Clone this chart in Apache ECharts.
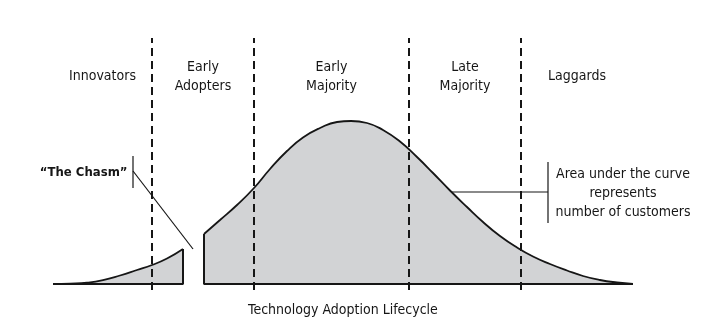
<!DOCTYPE html>
<html>
<head>
<meta charset="utf-8">
<script src="https://cdn.jsdelivr.net/npm/echarts@6/dist/echarts.min.js"></script>
<style>
html,body{margin:0;padding:0;background:#fff;}
#chart{width:725px;height:330px;}
</style>
</head>
<body>
<div id="chart"></div>
<script>
// Adoption position (arbitrary units along lifecycle) and relative number of customers
const leftX  = [0, 17, 34, 50, 67, 84, 99, 114, 130];
const leftY  = [0, 0.4, 1.3, 3.8, 8.5, 14, 19, 25.5, 35];
const rightX = [151, 167, 184, 201, 217, 234, 250, 267, 284, 298, 314, 330, 347, 364, 380, 397, 414, 430, 447, 464, 480, 497, 514, 530, 547, 564, 580];
const rightY = [50, 64, 79, 96, 115, 133, 146.5, 156, 162, 163, 161, 154, 142.5, 127, 111, 93.5, 77, 62, 48, 36.5, 27.5, 20, 13.5, 8, 4, 1.5, 0];
// Segment boundaries (dashed lines)
const boundaries = [99, 201, 356, 468];
const segments = ['Innovators', 'Early\nAdopters', 'Early\nMajority', 'Late\nMajority', 'Laggards'];
const axisTitle = 'Technology Adoption Lifecycle';
const chasmText = '\u201CThe Chasm\u201D';
const areaText = 'Area under the curve\nrepresents\nnumber of customers';

const FONT = "'DejaVu Sans Condensed', 'Liberation Sans', sans-serif";
const INK = '#161616';
const FILL = '#d2d3d5';

const zip = (xs, ys) => xs.map((x, i) => [x, ys[i]]);
const leftPts = zip(leftX, leftY);
const rightPts = zip(rightX, rightY);
const xMin = leftX[0], xMax = rightX[rightX.length - 1];
const yTop = 246, yBottom = -6;

// label centres: midpoints between curve ends and boundaries
const edges = [xMin, ...boundaries, xMax];
const labelY = 207.5;
const labelData = segments.map((s, i) => ({ value: [(edges[i] + edges[i + 1]) / 2, labelY], name: s }));

const hidden = { color: 'rgba(0,0,0,0)', opacity: 1 };
const series = [];
// filled curve pieces
[leftPts, rightPts].forEach(pts => {
  series.push({
    type: 'line', data: pts, smooth: 0.5, showSymbol: false, symbol: 'none',
    lineStyle: { color: INK, width: 1.8 }, areaStyle: { color: FILL, opacity: 1 }, z: 2, silent: true
  });
});
// outline edges (baseline + vertical cuts)
const lEnd = leftPts[leftPts.length - 1], rStart = rightPts[0];
series.push({
  type: 'line', data: [[xMin, 0], [lEnd[0], 0], lEnd], symbol: 'none',
  lineStyle: { color: INK, width: 2 }, z: 5, silent: true
});
series.push({
  type: 'line', data: [rStart, [rStart[0], 0], [xMax, 0]], symbol: 'none',
  lineStyle: { color: INK, width: 2 }, z: 5, silent: true
});
// dashed boundaries
boundaries.forEach(b => {
  series.push({
    type: 'line', data: [[b, yBottom], [b, yTop]], symbol: 'none', clip: false,
    lineStyle: { color: INK, width: 2, type: [8, 5] }, z: 4, silent: true
  });
});
// segment labels
series.push({
  type: 'scatter', data: labelData, symbolSize: 1, itemStyle: hidden, z: 6, silent: true,
  label: { show: true, position: 'inside', formatter: p => p.name, color: INK, fontFamily: FONT, fontSize: 14, lineHeight: 19, align: 'center', verticalAlign: 'middle' }
});
// annotations: chasm
series.push({
  type: 'line', data: [[80, 128], [80, 96]], symbol: 'none', lineStyle: { color: INK, width: 1.2 }, z: 6, silent: true
});
series.push({
  type: 'line', data: [[80, 113], [140, 35]], symbol: 'none', lineStyle: { color: INK, width: 1.2 }, z: 6, silent: true
});
series.push({
  type: 'scatter', data: [[75, 111]], symbolSize: 1, itemStyle: hidden, z: 6, silent: true,
  label: { show: true, position: 'left', distance: 0, formatter: chasmText, color: INK, fontFamily: FONT, fontSize: 13, fontWeight: 'bold' }
});
// annotations: area
series.push({
  type: 'line', data: [[399, 92], [495, 92]], symbol: 'none', lineStyle: { color: INK, width: 1.2 }, z: 6, silent: true
});
series.push({
  type: 'line', data: [[495, 122], [495, 61]], symbol: 'none', lineStyle: { color: INK, width: 1.2 }, z: 6, silent: true
});
series.push({
  type: 'scatter', data: [[570, 91]], symbolSize: 1, itemStyle: hidden, z: 6, silent: true,
  label: { show: true, position: 'inside', formatter: areaText, color: INK, fontFamily: FONT, fontSize: 14, lineHeight: 19, align: 'center', verticalAlign: 'middle' }
});

const chart = echarts.init(document.getElementById('chart'), null, { renderer: 'canvas' });
chart.setOption({
  animation: false,
  backgroundColor: '#fff',
  grid: { left: 53, right: 725 - 633, top: 38, bottom: 40, containLabel: false },
  xAxis: {
    type: 'value', min: xMin, max: xMax,
    axisLine: { show: false, onZero: false }, axisTick: { show: false }, axisLabel: { show: false }, splitLine: { show: false },
    name: axisTitle, nameLocation: 'middle', nameGap: 20,
    nameTextStyle: { color: INK, fontFamily: FONT, fontSize: 14, verticalAlign: 'middle' }
  },
  yAxis: {
    type: 'value', min: yBottom, max: yTop,
    axisLine: { show: false }, axisTick: { show: false }, axisLabel: { show: false }, splitLine: { show: false }
  },
  series
});
</script>
</body>
</html>
